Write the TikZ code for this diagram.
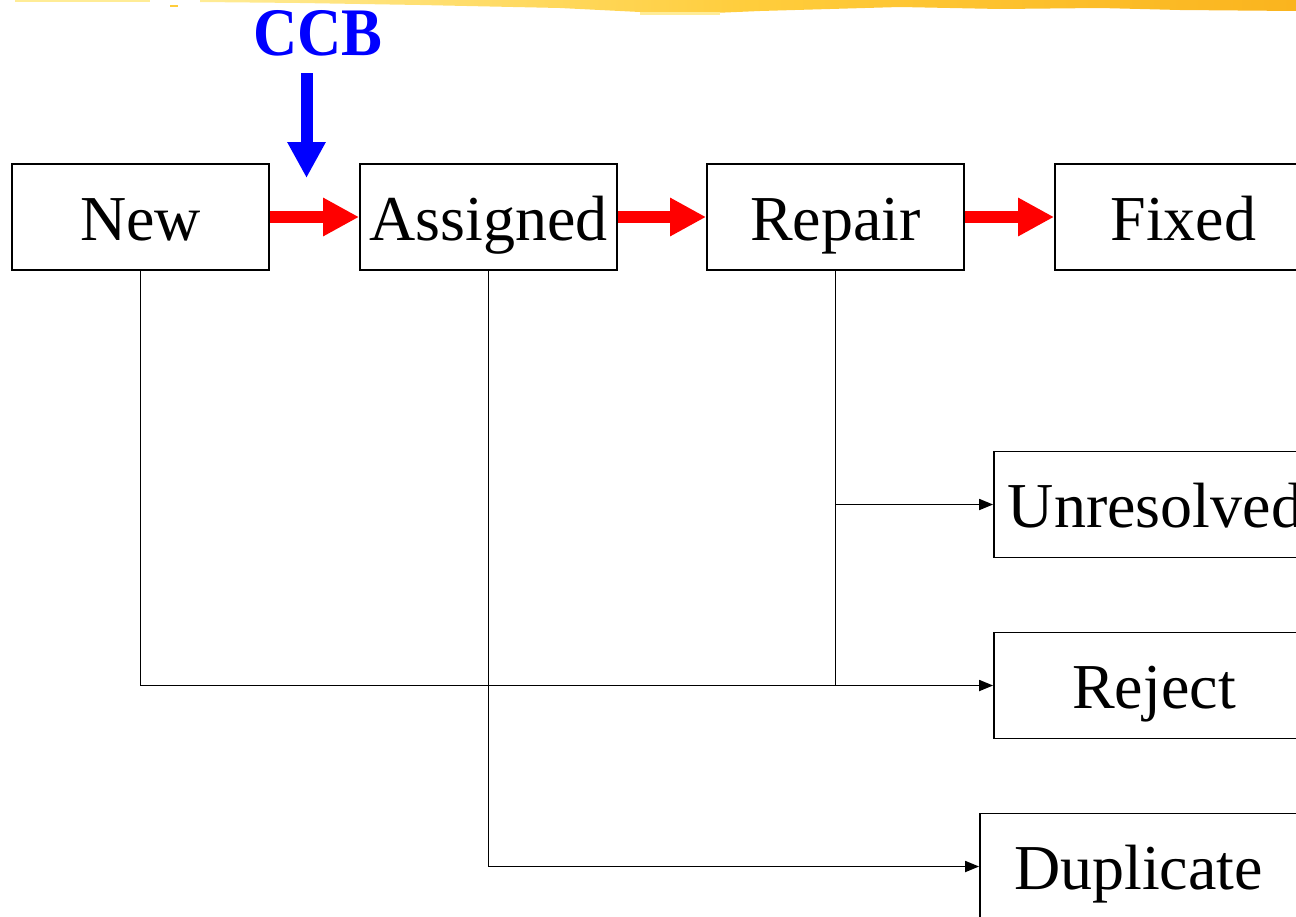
\documentclass[tikz,border=0pt]{standalone}
\usepackage{fontspec}
\setmainfont{Liberation Serif}
\usetikzlibrary{arrows.meta}
\definecolor{redarrow}{RGB}{255,0,0}
\definecolor{bluearrow}{RGB}{0,0,255}
\definecolor{ylight}{RGB}{255,236,150}
\definecolor{ymid}{RGB}{255,205,60}
\definecolor{ydark}{RGB}{250,180,30}
\tikzset{
  statebox/.style={draw=black, line width=1.8pt, minimum width=257pt, minimum height=106pt, inner sep=0pt, text height=58pt, text depth=12pt, font=\fontsize{64}{70}\selectfont},
  widebox/.style={statebox, minimum width=320pt},
  flow/.style={draw=redarrow, line width=12pt, -{Triangle[length=36pt,width=36pt]}},
  link/.style={draw=black, line width=1.8pt},
  linkarrow/.style={link, -{Triangle[length=14pt,width=11pt]}},
  ccbarrow/.style={draw=bluearrow, line width=12pt, -{Triangle[length=36pt,width=36pt]}}
}
\begin{document}
\begin{tikzpicture}[x=1pt,y=-1pt]
\useasboundingbox (0,0) rectangle (1296,916);
\clip (0,0) rectangle (1296,916);
% top brush stroke
\shade[left color=ylight, right color=ydark, middle color=ymid]
  (200,0) -- (1296,0) -- (1296,11) -- (1180,10) -- (1100,8) -- (1000,9) -- (900,7) -- (760,11) -- (690,14) -- (640,12) -- (560,8) -- (420,5) -- (300,3) -- (200,2) -- cycle;
\fill[ylight] (15,0) rectangle (150,1.5);
\fill[ymid] (170,5) rectangle (178,7);
\fill[ylight] (640,12) rectangle (720,15);
% state boxes
\node[statebox] (new) at (140.5,217) {New};
\node[statebox] (assigned) at (488.5,217) {Assigned};
\node[statebox] (repair) at (835.5,217) {Repair};
\node[statebox] (fixed) at (1183.5,217) {Fixed};
\node[widebox, minimum width=323pt] (unres) at (1155.5,504.5) {Unresolved};
\node[widebox] (reject) at (1154,685.5) {Reject};
\node[widebox, minimum width=317pt] (dup) at (1138.5,866.5) {Duplicate};
% CCB
\node[text=bluearrow, font=\bfseries\fontsize{68}{72}\selectfont, inner sep=0pt] (ccb) at (318,33) {\scalebox{0.9}[1]{CCB}};
\coordinate (ccbtop) at (306.5,73);
\coordinate (ccbtip) at (306.5,178);
\draw[ccbarrow] (ccbtop) -- (ccbtip);
% main flow
\draw[flow] (new.east) -- (assigned.west);
\draw[flow] (assigned.east) -- (repair.west);
\draw[flow] (repair.east) -- (fixed.west);
% side branches
\draw[linkarrow] (new.south) |- (reject.west);
\draw[linkarrow] (assigned.south) |- (dup.west);
\draw[link] (repair.south) -- (repair.south |- reject.west);
\draw[linkarrow] (repair.south |- unres.west) -- (unres.west);
\end{tikzpicture}
\end{document}
